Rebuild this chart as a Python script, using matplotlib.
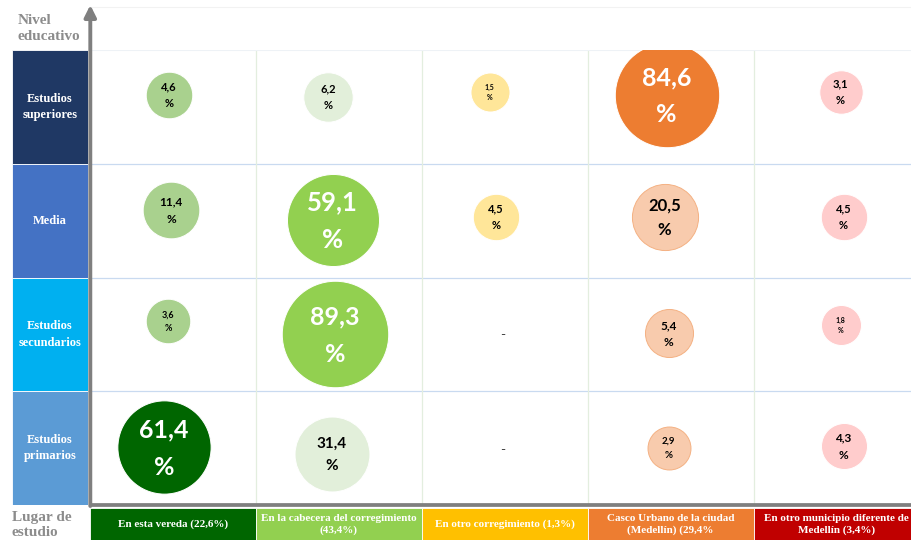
import matplotlib
matplotlib.use('Agg')
import matplotlib.pyplot as plt
import numpy as np

# data
niveles = ['Estudios\nsuperiores', 'Media', 'Estudios\nsecundarios', 'Estudios\nprimarios']
lugares = ['En esta vereda (22,6%)',
           'En la cabecera del corregimiento\n(43,4%)',
           'En otro corregimiento (1,3%)',
           'Casco Urbano de la ciudad\n(Medellín) (29,4%',
           'En otro municipio diferente de\nMedellín (3,4%)']
valores = np.array([[4.6, 6.2, 1.5, 84.6, 3.1],
                    [11.4, 59.1, 4.5, 20.5, 4.5],
                    [3.6, 89.3, np.nan, 5.4, 1.8],
                    [61.4, 31.4, np.nan, 2.9, 4.3]])

# styles
nivel_colores = ['#1F3864', '#4472C4', '#00B0F0', '#5B9BD5']
lugar_colores = ['#006600', '#92D050', '#FFC000', '#ED7D31', '#C00000']
burbuja_colores = [['#A9D18E', '#E2EFDA', '#FFE699', '#ED7D31', '#FFCCCC'],
                   ['#A9D18E', '#92D050', '#FFE699', '#F8CBAD', '#FFCCCC'],
                   ['#A9D18E', '#92D050', None, '#F8CBAD', '#FFCCCC'],
                   ['#006600', '#E2EFDA', None, '#F8CBAD', '#FFCCCC']]
fuente_tam = [[8, 8, 5, 18, 8],
              [8.5, 18.5, 8, 12, 8],
              [6.5, 18, 10, 8.5, 5],
              [18, 11, 10, 7, 8.5]]
# small nudges of each bubble from its cell centre, in pixels
nudge = [[(-4, -12), (-11, -10), (-15, -15), (-4, -12), (4, -15)],
         [(-2, -11), (-6, -1), (-9, -4), (-6, -4), (7, -4)],
         [(-5, -13), (-4, 0), (-2, 1), (-2, -1), (4, -9)],
         [(-9, -1), (-7, 6), (-2, 2), (-2, 0), (7, -2)]]

W, H = 911, 540
CW, RH = 165.9, 113.75
fig = plt.figure(figsize=(W / 100, H / 100), dpi=100)
fig.patch.set_facecolor('white')


def box(x0, y0, w, h):
    return [x0 / W, 1 - (y0 + h) / H, w / W, h / H]


# main grid
ax = fig.add_axes(box(90, 50, 5 * CW, 4 * RH))
ax.set_xlim(0, 5)
ax.set_ylim(4, 0)
ax.axis('off')
for r in range(1, 4):
    ax.axhline(r, color='#C9DAF0', lw=0.9, zorder=1)
for c in range(1, 5):
    ax.axvline(c, color='#E3EEDF', lw=0.9, zorder=1)
ax.axhline(0, color='#EEF2F6', lw=0.8, zorder=1)

for r in range(4):
    for c in range(5):
        v = valores[r, c]
        dx, dy = nudge[r][c]
        x = c + 0.5 + dx / CW
        y = r + 0.5 + dy / RH
        fs = fuente_tam[r][c]
        if np.isnan(v):
            ax.text(x, y, '-', ha='center', va='center', fontsize=fs,
                    color='#404040', family='Lato')
            continue
        rad = 14.5 + 4.1 * np.sqrt(v)
        col = burbuja_colores[r][c]
        edge = '#F4B183' if col == '#F8CBAD' else 'white'
        ax.scatter([x], [y], s=(2 * rad * 0.72) ** 2, c=col,
                   edgecolors=edge, linewidths=0.7, zorder=3)
        tc = 'white' if v > 50 else 'black'
        txt = f'{v:.1f}'.replace('.', ',')
        ax.annotate(txt, (x, y), xytext=(0, 0.68 * fs), textcoords='offset points',
                    ha='center', va='center', fontsize=fs, color=tc,
                    family='Lato', fontweight='bold', zorder=4)
        ax.annotate('%', (x, y), xytext=(0, -0.8 * fs), textcoords='offset points',
                    ha='center', va='center', fontsize=fs, color=tc,
                    family='Lato', fontweight='bold', zorder=4)

# row headers
axl = fig.add_axes(box(12, 50, 76, 4 * RH))
axl.barh(np.arange(4) + 0.5, 1, height=1, left=0, color=nivel_colores,
         edgecolor='white', linewidth=0.6)
axl.set_xlim(0, 1)
axl.set_ylim(4, 0)
axl.axis('off')
for i, lab in enumerate(niveles):
    axl.text(0.5, i + 0.5, lab, ha='center', va='center', color='white',
             fontsize=9, fontweight='bold', family='Liberation Serif',
             linespacing=1.5)

# column headers
axb = fig.add_axes(box(90, 508, 5 * CW, 33))
axb.bar(np.arange(5) + 0.5, 1, width=1, color=lugar_colores,
        edgecolor='white', linewidth=0.6)
axb.set_xlim(0, 5)
axb.set_ylim(0, 1)
axb.axis('off')
for i, lab in enumerate(lugares):
    axb.text(i + 0.5, 0.5, lab, ha='center', va='center', color='white',
             fontsize=8, fontweight='bold', family='Liberation Serif',
             linespacing=1.35)

# axis arrows
axo = fig.add_axes([0, 0, 1, 1], zorder=10)
axo.set_xlim(0, W)
axo.set_ylim(H, 0)
axo.axis('off')
axo.patch.set_alpha(0)
axo.plot([90, W], [7, 7], color='#F2F2F2', lw=0.8)
axo.plot([88.5, W], [504.5, 504.5], color='#7F7F7F', lw=2.7, solid_capstyle='butt')
axo.annotate('', xy=(90.3, 5), xytext=(90.3, 506),
             arrowprops=dict(arrowstyle='-|>,head_length=0.7,head_width=0.35',
                             color='#7F7F7F', lw=2.8, shrinkA=0, shrinkB=0))

fig.text(18 / W, 1 - 29 / H, 'Nivel\neducativo', ha='left', va='center',
         color='#8C8C8C', fontsize=11, fontweight='bold',
         family='Liberation Serif', linespacing=1.3)
fig.text(12 / W, 1 - 525 / H, 'Lugar de\nestudio', ha='left', va='center',
         color='#8C8C8C', fontsize=11, fontweight='bold',
         family='Liberation Serif', linespacing=1.3)

fig.savefig('out.png', dpi=100)
